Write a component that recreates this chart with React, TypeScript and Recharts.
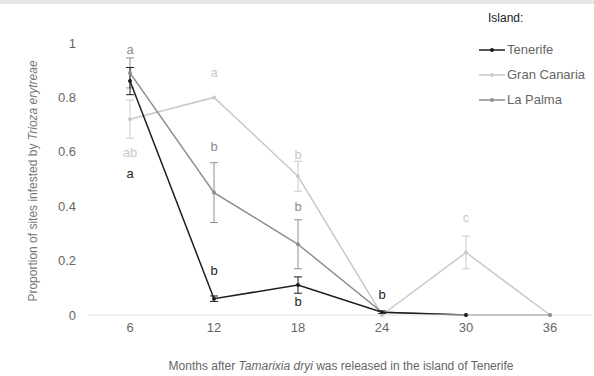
import React from "react"
import {
  ComposedChart,
  Line,
  XAxis,
  YAxis,
  ErrorBar,
} from "recharts"

const months = [6, 12, 18, 24, 30, 36]
const yTicks = [0, 0.2, 0.4, 0.6, 0.8, 1]

const tenerife = [0.86, 0.06, 0.11, 0.01, 0, null]
const tenerifeErr = [0.05, 0.01, 0.03, 0.005, 0, null]
const granCanaria = [0.72, 0.8, 0.51, 0, 0.23, 0]
const granCanariaErr = [0.07, 0, 0.055, 0, 0.06, 0]
const laPalma = [0.89, 0.45, 0.26, 0.01, 0, 0]
const laPalmaErr = [0.055, 0.11, 0.09, 0, 0, 0]

// significance letters and the value height they sit at
const tenerifeLetters = ["a", "b", "b", "b", "", ""]
const tenerifeLetterY = [0.52, 0.165, 0.048, 0.074, null, null]
const granCanariaLetters = ["ab", "a", "b", "", "c", ""]
const granCanariaLetterY = [0.596, 0.89, 0.59, null, 0.357, null]
const laPalmaLetters = ["a", "b", "b", "", "", ""]
const laPalmaLetterY = [0.975, 0.618, 0.4, null, null, null]

const series = [
  { name: "Tenerife", key: "tf", color: "#1e1e1e" },
  { name: "Gran Canaria", key: "gc", color: "#c9c9c9" },
  { name: "La Palma", key: "lp", color: "#8e8e8e" },
]

const data = months.map((m, i) => ({
  month: m,
  tf: tenerife[i],
  tfErr: tenerifeErr[i],
  tfL: tenerifeLetterY[i],
  tfText: tenerifeLetters[i],
  gc: granCanaria[i],
  gcErr: granCanariaErr[i],
  gcL: granCanariaLetterY[i],
  gcText: granCanariaLetters[i],
  lp: laPalma[i],
  lpErr: laPalmaErr[i],
  lpL: laPalmaLetterY[i],
  lpText: laPalmaLetters[i],
}))

const font = "'Liberation Sans', Arial, sans-serif"

const letterDot = (key: string, color: string) => (props: any) => {
  const { cx, cy, payload, index } = props
  const txt = payload[key + "Text"]
  if (!txt || cy == null || isNaN(cy)) return <g key={key + index} />
  return (
    <text
      key={key + index}
      x={cx}
      y={cy}
      textAnchor="middle"
      dominantBaseline="central"
      fontSize={13}
      fontFamily={font}
      fill={color}
    >
      {txt}
    </text>
  )
}

const LegendBox = () => (
  <div
    style={{
      position: "absolute",
      top: 8,
      left: 478,
      width: 116,
      fontFamily: font,
      color: "#666",
      fontSize: 13,
    }}
  >
    <div style={{ color: "#222", fontSize: 12, marginLeft: 10, height: 20, lineHeight: "20px" }}>
      Island:
    </div>
    {series.map((s, i) => (
      <div
        key={s.key}
        style={{
          display: "flex",
          alignItems: "center",
          height: 25,
          marginTop: i === 0 ? 9 : 0,
        }}
      >
        <svg width={28} height={10}>
          <line x1={1} y1={5} x2={27} y2={5} stroke={s.color} strokeWidth={1.5} />
          <circle cx={14} cy={5} r={2} fill={s.color} />
        </svg>
        <span style={{ marginLeft: 1 }}>{s.name}</span>
      </div>
    ))}
  </div>
)

const App = () => {
  return (
    <div style={{ position: "absolute", left: 0, top: 0, width: 594, height: 376, background: "#fff" }}>
      <div style={{ position: "absolute", left: 0, top: 0, width: 594, height: 4, background: "#e6e6e6" }} />
      <ComposedChart
        width={594}
        height={376}
        data={data}
        margin={{ top: 43, right: 2, left: 0, bottom: 31 }}
        style={{ fontFamily: font }}
      >
        <XAxis
          dataKey="month"
          type="category"
          height={30}
          padding={{ left: 42, right: 42 }}
          axisLine={{ stroke: "#e2e2e2" }}
          tickLine={false}
          tick={{ fill: "#666", fontSize: 13 }}
          label={(p: any) => (
            <text
              x={341}
              y={370}
              textAnchor="middle"
              fontSize={12}
              fontFamily={font}
              fill="#666"
            >
              Months after <tspan fontStyle="italic">Tamarixia dryi</tspan> was released in the island of Tenerife
            </text>
          )}
        />
        <YAxis
          type="number"
          domain={[0, 1]}
          ticks={yTicks}
          width={88}
          axisLine={false}
          tickLine={false}
          tickMargin={6}
          tick={{ fill: "#666", fontSize: 13 }}
          label={(p: any) => (
            <text
              x={33}
              y={181}
              transform="rotate(-90 33 181)"
              textAnchor="middle"
              dominantBaseline="central"
              fontSize={12}
              fontFamily={font}
              fill="#777"
            >
              Proportion of sites infested by <tspan fontStyle="italic">Trioza erytreae</tspan>
            </text>
          )}
        />
        {[series[1], series[2], series[0]].map((s) => (
          <Line
            key={s.key}
            dataKey={s.key}
            name={s.name}
            stroke={s.color}
            strokeWidth={1.5}
            dot={{ r: 2, fill: s.color, stroke: s.color, strokeWidth: 0 }}
            activeDot={false}
            isAnimationActive={false}
          >
            <ErrorBar dataKey={s.key + "Err"} width={4} stroke={s.color} strokeWidth={1} direction="y" />
          </Line>
        ))}
        {series.map((s) => (
          <Line
            key={s.key + "L"}
            dataKey={s.key + "L"}
            stroke="none"
            legendType="none"
            dot={letterDot(s.key, s.color)}
            activeDot={false}
            isAnimationActive={false}
          />
        ))}
      </ComposedChart>
      <LegendBox />
    </div>
  )
}

export default App
